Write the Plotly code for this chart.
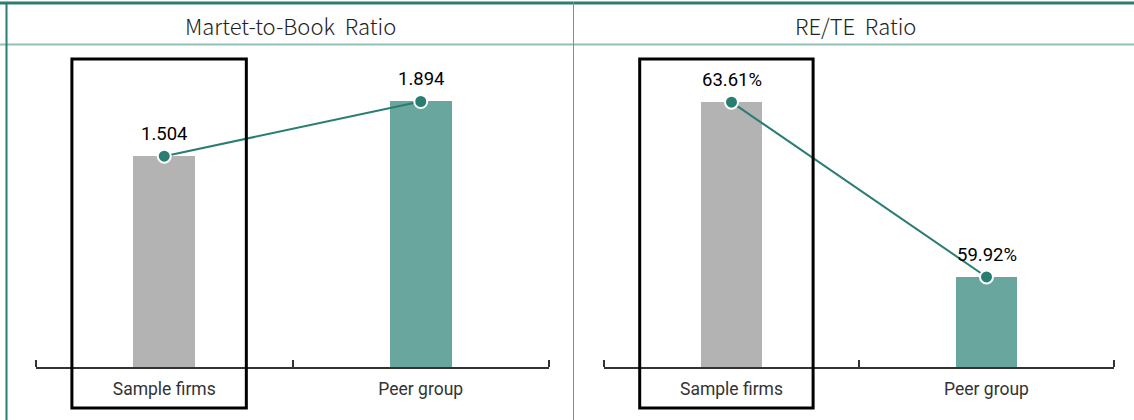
import plotly.graph_objects as go

# Data
categories = ["Sample firms", "Peer group"]
mtb_values = [1.504, 1.894]
mtb_labels = ["1.504", "1.894"]
rete_values = [63.61, 59.92]
rete_labels = ["63.61%", "59.92%"]
panel_titles = ["Martet-to-Book&nbsp; Ratio", "RE/TE&nbsp; Ratio"]

W, H = 1134, 420
GRAY = "#b3b3b3"
TEAL_BAR = "#68a69e"
TEAL_DARK = "#2a7d72"
TEAL_LIGHT = "#91bfb6"
FONT = "Noto Sans CJK KR"
NUM_FONT = "Roboto"

xs = list(range(len(categories)))

fig = go.Figure()

panels = [
    ("x", "y", mtb_values, mtb_labels),
    ("x2", "y2", rete_values, rete_labels),
]

for xa, ya, vals, labs in panels:
    fig.add_trace(go.Bar(
        x=xs, y=vals, xaxis=xa, yaxis=ya, width=0.24,
        marker=dict(color=[GRAY, TEAL_BAR], line=dict(width=0)),
        hoverinfo="skip", showlegend=False,
    ))
    fig.add_trace(go.Scatter(
        x=xs, y=vals, xaxis=xa, yaxis=ya, mode="lines+markers",
        line=dict(color=TEAL_DARK, width=2),
        marker=dict(size=13, color=TEAL_DARK, line=dict(color="white", width=2)),
        hoverinfo="skip", showlegend=False, cliponaxis=False,
    ))
    for xi, v, t in zip(xs, vals, labs):
        fig.add_annotation(
            x=xi, y=v, xref=xa, yref=ya, text=t, showarrow=False,
            yshift=22, font=dict(family=NUM_FONT, size=18.5, color="#000"),
        )
    # highlight box around the first category
    fig.add_shape(
        type="rect", xref=xa, yref="paper",
        x0=xs[0] - 0.36, x1=xs[0] + 0.32,
        y0=1 - 408 / H, y1=1 - 59 / H,
        line=dict(color="black", width=3), fillcolor="rgba(0,0,0,0)", layer="above",
    )

x_common = dict(
    range=[-0.5, 1.5], tickvals=xs, ticktext=categories, ticks="",
    showline=True, linecolor="#333", linewidth=1.5, showgrid=False, zeroline=False,
    tickfont=dict(family=NUM_FONT, size=17.5, color="#333"), fixedrange=True,
    minor=dict(tickvals=[-0.5, 0.5, 1.5], ticks="inside", ticklen=7,
               tickcolor="#333", tickwidth=1.5),
    ticklabelstandoff=5,
)
y_common = dict(visible=False, showgrid=False, zeroline=False, fixedrange=True,
                domain=[1 - 367 / H, 1 - 60 / H])

fig.update_layout(
    width=W, height=H, margin=dict(l=0, r=0, t=0, b=0),
    paper_bgcolor="white", plot_bgcolor="white",
    bargap=0,
    xaxis=dict(domain=[36 / W, 549 / W], anchor="y", **x_common),
    xaxis2=dict(domain=[604 / W, 1114 / W], anchor="y2", **x_common),
    yaxis=dict(range=[0, 2.19], anchor="x", **y_common),
    yaxis2=dict(range=[58.02, 64.5], anchor="x2", **y_common),
)

# Frame: top rule, header separator, left edge, middle divider
frame = [
    dict(x0=0, x1=1, y0=1 - 3 / H, y1=1 - 3 / H, color=TEAL_DARK, width=3),
    dict(x0=0, x1=1, y0=1 - 44.5 / H, y1=1 - 44.5 / H, color=TEAL_LIGHT, width=2),
    dict(x0=6.5 / W, x1=6.5 / W, y0=0, y1=1 - 2 / H, color=TEAL_DARK, width=2),
    dict(x0=573.5 / W, x1=573.5 / W, y0=0, y1=1 - 2 / H, color="#5f9f96", width=1),
]
for f in frame:
    fig.add_shape(type="line", xref="paper", yref="paper",
                  x0=f["x0"], x1=f["x1"], y0=f["y0"], y1=f["y1"],
                  line=dict(color=f["color"], width=f["width"]), layer="above")

# Panel titles
for cx, title in zip([290 / W, 855 / W], panel_titles):
    fig.add_annotation(x=cx, y=1 - 25 / H, xref="paper", yref="paper",
                       xanchor="center", yanchor="middle",
                       text=title, showarrow=False,
                       font=dict(family=FONT, size=22, color="#222", weight=300))

fig.write_html("out.html")
